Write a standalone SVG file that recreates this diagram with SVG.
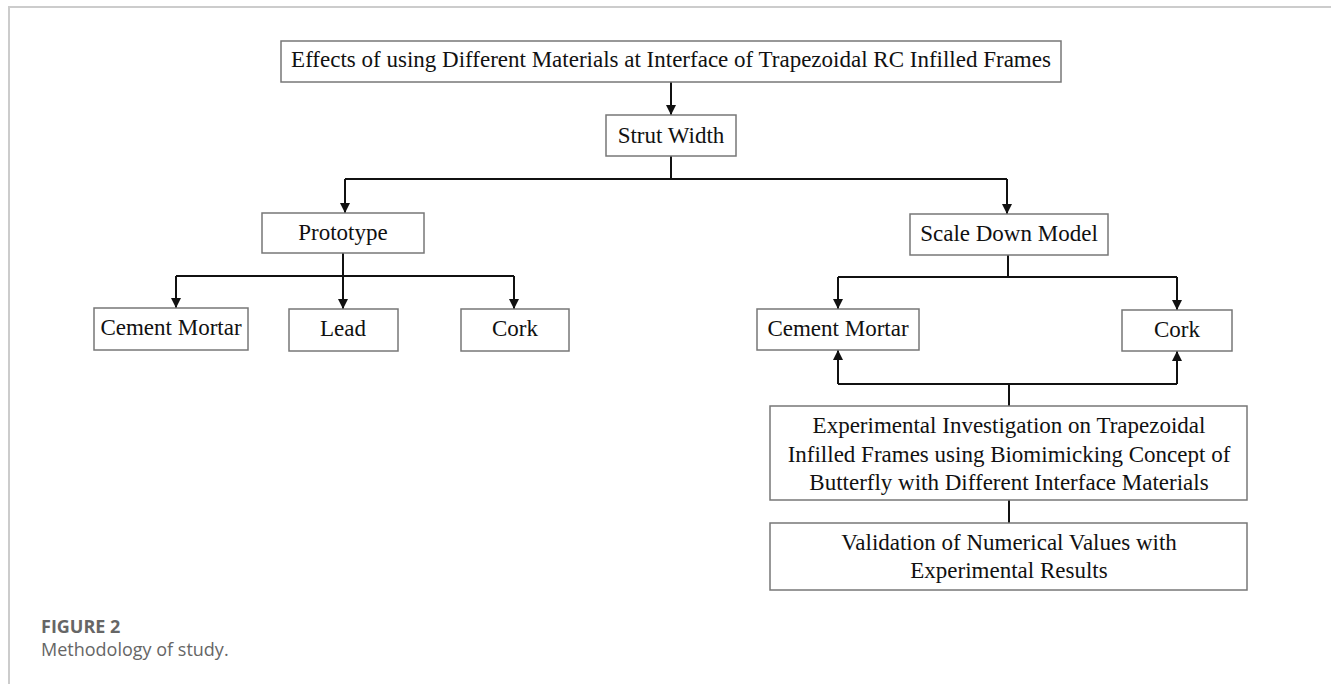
<svg xmlns="http://www.w3.org/2000/svg" width="1331" height="684" viewBox="0 0 1331 684">
<style>
.frame{fill:none;stroke:#cccccc;stroke-width:2}
.box{fill:#ffffff;stroke:#777777;stroke-width:1.5}
.t{font-family:"Liberation Serif","Times New Roman",serif;font-size:23px;fill:#111111;text-anchor:middle}
.c{fill:none;stroke:#111111;stroke-width:2}
.cap1{font-family:"Open Sans",Lato,sans-serif;font-size:18px;font-weight:bold;fill:#666666}
.cap2{font-family:"Open Sans",Lato,sans-serif;font-size:18px;fill:#666666}
</style>
<defs>
<marker id="ah" viewBox="0 0 10 10" refX="10" refY="5" markerWidth="5" markerHeight="5" orient="auto" markerUnits="strokeWidth">
<path d="M0,0 L10,5 L0,10 Z" fill="#111111"/>
</marker>
</defs>
<rect width="1331" height="684" fill="#ffffff"/>
<path class="frame" d="M9,684 V7 H1331"/>

<g id="connectors">
<path class="c" d="M671,82 V115" marker-end="url(#ah)"/>
<path class="c" d="M671,156 V179"/>
<path class="c" d="M345,179 H1007"/>
<path class="c" d="M345,179 V213" marker-end="url(#ah)"/>
<path class="c" d="M1007,179 V214" marker-end="url(#ah)"/>
<path class="c" d="M343,253 V276"/>
<path class="c" d="M176,276 H514"/>
<path class="c" d="M176,276 V308" marker-end="url(#ah)"/>
<path class="c" d="M343,276 V309" marker-end="url(#ah)"/>
<path class="c" d="M514,276 V309" marker-end="url(#ah)"/>
<path class="c" d="M1008,255 V277"/>
<path class="c" d="M838,277 H1177"/>
<path class="c" d="M838,277 V309" marker-end="url(#ah)"/>
<path class="c" d="M1177,277 V310" marker-end="url(#ah)"/>
<path class="c" d="M1009,406 V384"/>
<path class="c" d="M838,384 H1177"/>
<path class="c" d="M838,384 V350" marker-end="url(#ah)"/>
<path class="c" d="M1177,384 V351" marker-end="url(#ah)"/>
<path class="c" d="M1009,500 V523"/>
</g>

<g id="n-top">
<rect class="box" x="281" y="41" width="780" height="41"/>
<text class="t" x="671" y="67">Effects of using Different Materials at Interface of Trapezoidal RC Infilled Frames</text>
</g>
<g id="n-strut">
<rect class="box" x="606" y="115" width="130" height="41"/>
<text class="t" x="671" y="143">Strut Width</text>
</g>
<g id="n-prototype">
<rect class="box" x="262" y="213" width="162" height="40"/>
<text class="t" x="343" y="240">Prototype</text>
</g>
<g id="n-scale">
<rect class="box" x="910" y="214" width="198" height="41"/>
<text class="t" x="1009" y="241">Scale Down Model</text>
</g>
<g id="n-cm1">
<rect class="box" x="94" y="308" width="154" height="42"/>
<text class="t" x="171" y="335">Cement Mortar</text>
</g>
<g id="n-lead">
<rect class="box" x="289" y="309" width="109" height="42"/>
<text class="t" x="343" y="336">Lead</text>
</g>
<g id="n-cork1">
<rect class="box" x="461" y="309" width="108" height="42"/>
<text class="t" x="515" y="336">Cork</text>
</g>
<g id="n-cm2">
<rect class="box" x="757" y="309" width="162" height="41"/>
<text class="t" x="838" y="336">Cement Mortar</text>
</g>
<g id="n-cork2">
<rect class="box" x="1122" y="310" width="110" height="41"/>
<text class="t" x="1177" y="337">Cork</text>
</g>
<g id="n-exp">
<rect class="box" x="770" y="406" width="477" height="94"/>
<text class="t" x="1009" y="433">Experimental Investigation on Trapezoidal</text>
<text class="t" x="1009" y="462">Infilled Frames using Biomimicking Concept of</text>
<text class="t" x="1009" y="490">Butterfly with Different Interface Materials</text>
</g>
<g id="n-valid">
<rect class="box" x="770" y="523" width="477" height="67"/>
<text class="t" x="1009" y="550">Validation of Numerical Values with</text>
<text class="t" x="1009" y="578">Experimental Results</text>
</g>

<text class="cap1" x="41" y="633">FIGURE 2</text>
<text class="cap2" x="41" y="656">Methodology of study.</text>
</svg>
